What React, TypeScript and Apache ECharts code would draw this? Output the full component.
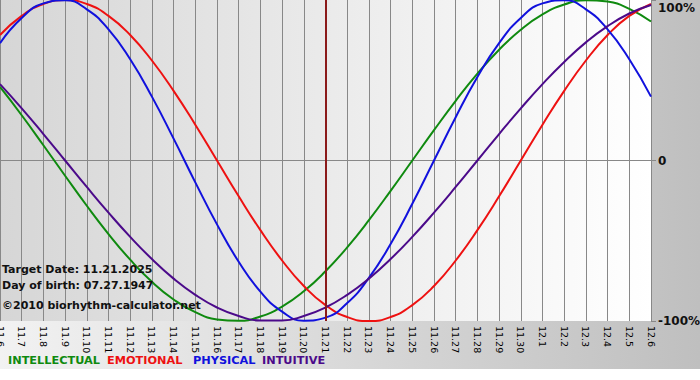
import React, { useEffect, useRef } from 'react';
import * as echarts from 'echarts';

const dates = [
  '11.6', '11.7', '11.8', '11.9', '11.10', '11.11', '11.12', '11.13', '11.14', '11.15',
  '11.16', '11.17', '11.18', '11.19', '11.20', '11.21', '11.22', '11.23', '11.24', '11.25',
  '11.26', '11.27', '11.28', '11.29', '11.30', '12.1', '12.2', '12.3', '12.4', '12.5', '12.6',
];

const intellectual = [
  0.458, 0.282, 0.095, -0.095, -0.282, -0.458, -0.618, -0.756, -0.866, -0.945,
  -0.99, -0.999, -0.972, -0.91, -0.815, -0.69, -0.541, -0.372, -0.189, 0.0,
  0.189, 0.372, 0.541, 0.69, 0.815, 0.91, 0.972, 0.999, 0.99, 0.945, 0.866,
];

const emotional = [
  0.782, 0.901, 0.975, 1.0, 0.975, 0.901, 0.782, 0.623, 0.434, 0.223,
  0.0, -0.223, -0.434, -0.623, -0.782, -0.901, -0.975, -1.0, -0.975, -0.901,
  -0.782, -0.623, -0.434, -0.223, 0.0, 0.223, 0.434, 0.623, 0.782, 0.901, 0.975,
];

const physical = [
  0.731, 0.888, 0.979, 0.998, 0.942, 0.817, 0.631, 0.398, 0.136, -0.136,
  -0.398, -0.631, -0.817, -0.942, -0.998, -0.979, -0.888, -0.731, -0.52, -0.27,
  0.0, 0.27, 0.52, 0.731, 0.888, 0.979, 0.998, 0.942, 0.817, 0.631, 0.398,
];

const intuitive = [
  0.476, 0.325, 0.165, 0.0, -0.165, -0.325, -0.476, -0.614, -0.736, -0.837,
  -0.916, -0.969, -0.997, -0.997, -0.969, -0.916, -0.837, -0.736, -0.614, -0.476,
  -0.325, -0.165, 0.0, 0.165, 0.325, 0.476, 0.614, 0.736, 0.837, 0.916, 0.969,
];

const targetDate = '11.21';
const yTickLabels: Record<string, string> = { '1': '100%', '0': '0', '-1': '-100%' };
const infoLines = ['Target Date: 11.21.2025', 'Day of birth: 07.27.1947', '\u00a92010 biorhythm-calculator.net'];
const legendNames = ['INTELLECTUAL', 'EMOTIONAL', 'PHYSICAL', 'INTUITIVE'];

const COLORS = {
  intellectual: '#0f8a0f',
  emotional: '#ee1111',
  physical: '#1111dd',
  intuitive: '#4b0a8a',
};

export default function App() {
  const ref = useRef<HTMLDivElement>(null);

  useEffect(() => {
    if (!ref.current) return;
    const chart = echarts.init(ref.current, null, { renderer: 'svg' });
    const font = 'DejaVu Sans, Verdana, sans-serif';
    const lineSeries = (name: string, data: number[], color: string, extra: any = {}) => ({
      name,
      type: 'line',
      data,
      smooth: 0.5,
      showSymbol: false,
      symbol: 'none',
      lineStyle: { color, width: 2 },
      itemStyle: { color },
      ...extra,
    });

    const legendX = [8, 107, 193, 262];
    const legendColors = [COLORS.intellectual, COLORS.emotional, COLORS.physical, COLORS.intuitive];
    const infoY = [271, 287, 307];

    chart.setOption({
      animation: false,
      backgroundColor: 'transparent',
      grid: {
        left: 0,
        right: 49,
        top: 0,
        bottom: 59,
        outerBoundsMode: 'none',
        containLabel: false,
        show: true,
        borderWidth: 0,
        backgroundColor: new echarts.graphic.LinearGradient(0, 0, 1, 0, [
          { offset: 0, color: '#d6d6d6' },
          { offset: 1, color: '#ffffff' },
        ]),
      },
      xAxis: {
        type: 'category',
        data: dates,
        boundaryGap: false,
        axisLine: { show: true, lineStyle: { color: '#888888', width: 1 } },
        axisTick: { show: true, length: 4, lineStyle: { color: '#888888' } },
        splitLine: { show: true, lineStyle: { color: '#888888', width: 1 } },
        axisLabel: {
          rotate: -90,
          interval: 0,
          margin: 5,
          fontSize: 9.5,
          fontFamily: font,
          color: '#000000',
        },
      },
      yAxis: {
        type: 'value',
        position: 'right',
        min: -1,
        max: 1,
        interval: 1,
        axisLine: { show: true, lineStyle: { color: '#888888', width: 1 } },
        axisTick: { show: true, length: 5, lineStyle: { color: '#888888' } },
        splitLine: { show: true, lineStyle: { color: ['transparent', '#888888', 'transparent'], width: 1 } },
        axisLabel: {
          margin: 7,
          fontSize: 12,
          fontWeight: 'bold',
          fontFamily: font,
          color: '#111111',
          formatter: (v: number) => {
            const s = yTickLabels[String(v)] ?? String(v);
            return v === 1 ? `{top|${s}}` : s;
          },
          rich: {
            top: {
              fontSize: 12,
              fontWeight: 'bold',
              fontFamily: font,
              color: '#111111',
              padding: [16, 0, 0, 0],
            },
          },
        },
      },
      series: [
        lineSeries('INTELLECTUAL', intellectual, COLORS.intellectual),
        lineSeries('EMOTIONAL', emotional, COLORS.emotional),
        lineSeries('PHYSICAL', physical, COLORS.physical),
        lineSeries('INTUITIVE', intuitive, COLORS.intuitive, {
          markLine: {
            silent: true,
            symbol: ['none', 'none'],
            label: { show: false },
            lineStyle: { color: '#8b1a1a', width: 2, type: 'solid' },
            data: [{ xAxis: targetDate }],
          },
        }),
      ],
      graphic: [
        ...infoLines.map((t, i) => ({
          type: 'text',
          left: 2,
          top: infoY[i] - 7,
          z: 100,
          style: {
            text: t,
            fill: '#111111',
            font: `bold 11px ${font}`,
          },
        })),
        ...legendNames.map((t, i) => ({
          type: 'text',
          left: legendX[i],
          top: 355,
          z: 100,
          style: {
            text: t,
            fill: legendColors[i],
            font: `bold 11.3px ${font}`,
          },
        })),
      ],
    });
    return () => chart.dispose();
  }, []);

  return (
    <div style={{ position: 'fixed', left: 0, top: 0, width: 700, height: 380, background: '#ffffff' }}>
      <div
        style={{
          position: 'absolute',
          left: 0,
          top: 0,
          width: 700,
          height: 369,
          background: 'linear-gradient(to right, #f2f2f2, #bfbfbf)',
        }}
      />
      <div ref={ref} style={{ position: 'absolute', left: 0, top: 0, width: 700, height: 380 }} />
    </div>
  );
}
